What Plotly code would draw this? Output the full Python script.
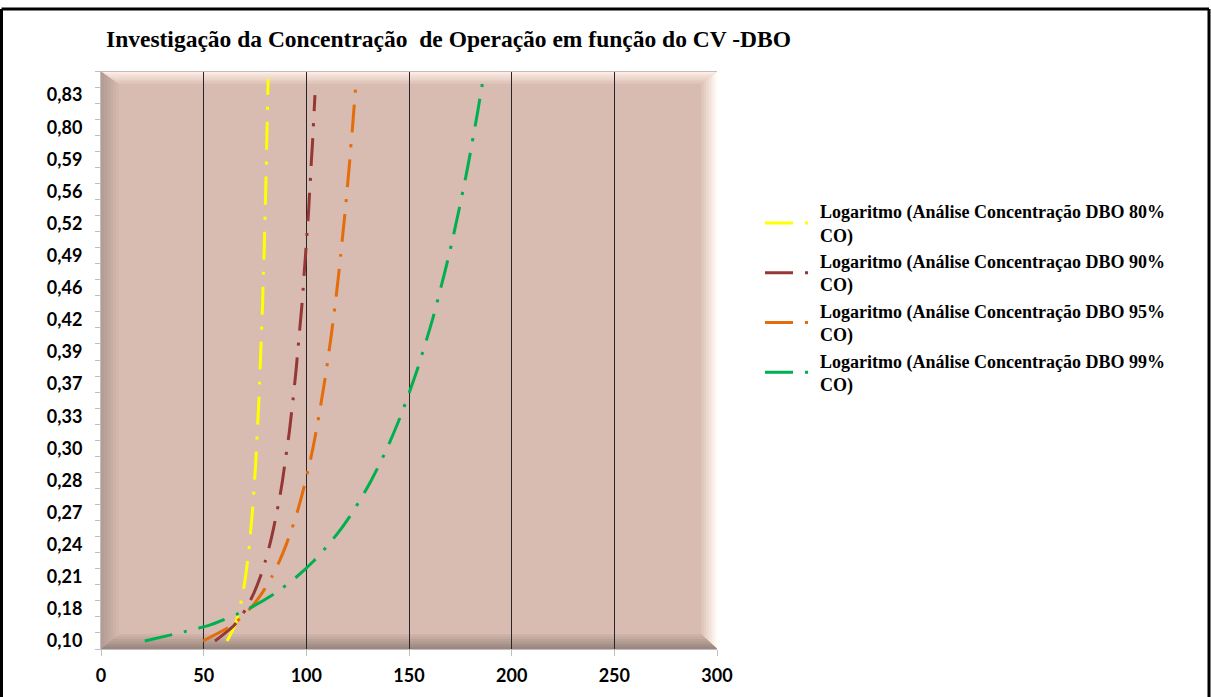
import plotly.graph_objects as go

# ---------------- data ----------------
y_labels = ["0,10", "0,18", "0,21", "0,24", "0,27", "0,28", "0,30", "0,33", "0,37",
            "0,39", "0,42", "0,46", "0,49", "0,52", "0,56", "0,59", "0,80", "0,83"]
y_label_pos = [0, 2, 4, 6, 8, 10, 12, 14, 16, 18, 20, 22, 24, 26, 28, 30, 32, 34]
x_ticks = [0, 50, 100, 150, 200, 250, 300]

cat_80 = list(range(36))
dbo_80 = [61.4, 65.3, 67.5, 69.1, 70.4, 71.4, 72.3, 73.0, 73.7, 74.3, 74.8, 75.3,
          75.7, 76.1, 76.5, 76.9, 77.2, 77.5, 77.8, 78.1, 78.4, 78.7, 78.9, 79.1,
          79.4, 79.6, 79.8, 80.0, 80.2, 80.4, 80.6, 80.7, 80.9, 81.1, 81.2, 81.4]

cat_90 = list(range(35))
dbo_90 = [55.5, 65.0, 70.6, 74.5, 77.6, 80.1, 82.2, 84.0, 85.6, 87.1, 88.4, 89.5,
          90.6, 91.7, 92.6, 93.5, 94.3, 95.1, 95.8, 96.5, 97.2, 97.9, 98.5, 99.0,
          99.6, 100.1, 100.7, 101.2, 101.6, 102.1, 102.5, 103.0, 103.4, 103.8, 104.2]

cat_95 = list(range(36))
dbo_95 = [49.7, 64.1, 72.5, 78.5, 83.2, 87.0, 90.2, 93.0, 95.5, 97.7, 99.7, 101.5,
          103.2, 104.7, 106.1, 107.4, 108.7, 109.9, 111.0, 112.1, 113.1, 114.1, 115.0, 115.9,
          116.7, 117.5, 118.3, 119.1, 119.8, 120.5, 121.2, 121.8, 122.5, 123.1, 123.7, 124.3]

cat_99 = list(range(36))
dbo_99 = [21.3, 53.2, 71.8, 85.1, 95.3, 103.7, 110.8, 117.0, 122.4, 127.2, 131.6, 135.6,
          139.3, 142.7, 145.9, 148.8, 151.6, 154.3, 156.7, 159.1, 161.4, 163.5, 165.5, 167.5,
          169.4, 171.2, 172.9, 174.6, 176.2, 177.8, 179.3, 180.7, 182.1, 183.5, 184.8, 186.1]

names = ["Logaritmo (Análise Concentração DBO 80%<br>CO)",
         "Logaritmo (Análise Concentraçao DBO 90%<br>CO)",
         "Logaritmo (Análise Concentração DBO 95%<br>CO)",
         "Logaritmo (Análise Concentração DBO 99%<br>CO)"]
colors = ["#FFFF00", "#953735", "#E46C0A", "#00B050"]
series = [(dbo_80, cat_80), (dbo_90, cat_90), (dbo_95, cat_95), (dbo_99, cat_99)]

title = "Investigação da Concentração  de Operação em função do CV -DBO"

# ---------------- layout geometry ----------------
W, H = 1211, 697
L, R, T, B = 101, 717, 71, 649
XMIN, XMAX = 0, 300
YMIN, YMAX = -0.5, 35.5


def px2paper_x(px):
    return (px - L) / (R - L)


def px2paper_y(py):
    return (B - py) / (B - T)


fig = go.Figure()
for (xs, ys), nm, c in zip(series, names, colors):
    fig.add_trace(go.Scatter(
        x=xs, y=ys, mode="lines", name=nm,
        line=dict(color=c, width=3, dash="28px,12px,3px,12px", shape="spline", smoothing=0.6),
        hoverinfo="skip"))

# ---------------- bevelled plot area ----------------
def hex2rgb(h):
    h = h.lstrip("#")
    return tuple(int(h[i:i + 2], 16) for i in (0, 2, 4))


def mix(c1, c2, t):
    a, b = hex2rgb(c1), hex2rgb(c2)
    return "rgb(%d,%d,%d)" % tuple(round(a[i] + (b[i] - a[i]) * t) for i in range(3))


main_col = "#D8BCB1"
dx = (XMAX - XMIN) / (R - L)
dy = (YMAX - YMIN) / (B - T)
Dl, Dr = 18 * dx, 16 * dx
Dt, Db = 13 * dy, 15 * dy
edge = {"left": "#B49D95", "right": "#FFF8F1", "top": "#FFEEE6", "bottom": "#9C8780"}
shapes = []
N = 6
for side in ["left", "right", "top", "bottom"]:
    for k in range(N):
        f = 1 - k / N
        t = (k + 1) / N
        col = mix(main_col, edge[side], t)
        x0, x1, y0, y1 = XMIN, XMAX, YMIN, YMAX
        if side == "top":
            pts = [(x0, y1), (x1, y1), (x1 - f * Dr, y1 - f * Dt), (x0 + f * Dl, y1 - f * Dt)]
        elif side == "bottom":
            pts = [(x0, y0), (x1, y0), (x1 - f * Dr, y0 + f * Db), (x0 + f * Dl, y0 + f * Db)]
        elif side == "left":
            pts = [(x0, y0), (x0, y1), (x0 + f * Dl, y1 - f * Dt), (x0 + f * Dl, y0 + f * Db)]
        else:
            pts = [(x1, y0), (x1, y1), (x1 - f * Dr, y1 - f * Dt), (x1 - f * Dr, y0 + f * Db)]
        path = "M " + " L ".join("%f,%f" % p for p in pts) + " Z"
        shapes.append(dict(type="path", path=path, xref="x", yref="y", layer="below",
                           fillcolor=col, line=dict(width=0)))

# top grey border of plot area
shapes.append(dict(type="line", xref="x", yref="y", x0=XMIN, x1=XMAX, y0=YMAX, y1=YMAX,
                   line=dict(color="#BFBFBF", width=2), layer="above"))

# outer chart border (black)
bx0, bx1, by0 = px2paper_x(1.5), px2paper_x(1209), px2paper_y(9)
byb = px2paper_y(700)
shapes += [
    dict(type="line", xref="paper", yref="paper", x0=bx0, x1=bx1, y0=by0, y1=by0,
         line=dict(color="black", width=3)),
    dict(type="line", xref="paper", yref="paper", x0=bx0, x1=bx0, y0=by0, y1=byb,
         line=dict(color="black", width=3)),
    dict(type="line", xref="paper", yref="paper", x0=bx1, x1=bx1, y0=by0, y1=byb,
         line=dict(color="black", width=3)),
]

fig.update_layout(
    width=W, height=H,
    margin=dict(l=L, r=W - R, t=T, b=H - B),
    paper_bgcolor="white", plot_bgcolor=main_col,
    shapes=shapes,
    showlegend=True,
    legend=dict(x=px2paper_x(760), y=px2paper_y(193), xanchor="left", yanchor="top",
                font=dict(family="Liberation Serif", size=18, color="black", weight="bold"),
                bgcolor="rgba(0,0,0,0)", itemwidth=50, tracegroupgap=0),
    annotations=[dict(text=title, xref="paper", yref="paper",
                      x=px2paper_x(104), y=px2paper_y(39), xanchor="left", yanchor="middle",
                      showarrow=False,
                      font=dict(family="Liberation Serif", size=23.5, color="black", weight="bold"))],
)

fig.update_xaxes(range=[XMIN, XMAX], tickmode="array", tickvals=x_ticks,
                 ticktext=[str(v) for v in x_ticks],
                 showgrid=True, gridcolor="#262626", gridwidth=1, zeroline=False,
                 showline=True, linecolor="#BFBFBF", linewidth=1,
                 ticks="outside", ticklen=6, tickcolor="#BFBFBF", ticklabelstandoff=4,
                 tickfont=dict(family="Lato", size=18, color="black", weight="bold"))

fig.update_yaxes(range=[YMIN, YMAX], tickmode="array", tickvals=y_label_pos, ticktext=y_labels,
                 showgrid=False, zeroline=False, showline=True, linecolor="#BFBFBF", linewidth=1,
                 ticks="", ticklabelstandoff=14,
                 minor=dict(tickmode="linear", tick0=-0.5, dtick=1, ticks="outside", ticklen=5,
                            tickcolor="#BFBFBF", showgrid=False),
                 tickfont=dict(family="Lato", size=18, color="black", weight="bold"))

fig.write_html("out.html")
